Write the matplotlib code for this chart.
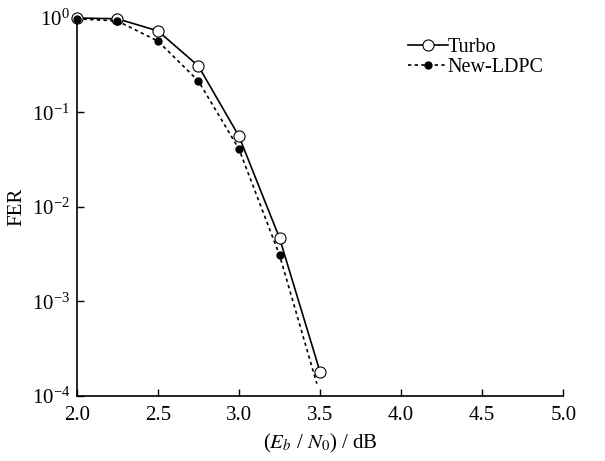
import matplotlib
matplotlib.use("Agg")
import matplotlib.pyplot as plt

# 읽어낸 값 (Eb/N0 [dB], FER)
snr_turbo = [2.0, 2.25, 2.5, 2.75, 3.0, 3.25, 3.5]
fer_turbo = [1.0, 0.98, 0.73, 0.31, 0.056, 0.0047, 1.8e-4]

snr_ldpc = [2.0, 2.25, 2.5, 2.75, 3.0, 3.25, 3.48]
fer_ldpc = [0.98, 0.93, 0.57, 0.215, 0.041, 0.0031, 1.35e-4]

xticks = [2.0, 2.5, 3.0, 3.5, 4.0, 4.5, 5.0]

plt.rcParams["font.family"] = ["Liberation Serif", "DejaVu Serif"]
plt.rcParams["mathtext.fontset"] = "stix"

fig = plt.figure(figsize=(6.05, 4.61), dpi=100)
ax = fig.add_axes([0.127, 0.141, 0.804, 0.820])

ax.semilogy(snr_turbo, fer_turbo, "-", color="black", lw=1.2,
            marker="o", ms=8, mfc="white", mec="black", mew=0.8,
            clip_on=False, label="Turbo")
ax.semilogy(snr_ldpc, fer_ldpc, color="black", lw=1.2, dashes=(2, 2),
            marker="o", ms=5, mfc="black", mec="black",
            markevery=list(range(len(snr_ldpc) - 1)), clip_on=False,
            label="New-LDPC")

ax.set_xlim(2.0, 5.0)
ax.set_ylim(1e-4, 1.0)
ax.set_xticks(xticks)
ax.set_xticklabels([f"{v:.1f}" for v in xticks])
ax.set_yticks([1e-4, 1e-3, 1e-2, 1e-1, 1e0])
ax.minorticks_off()
ax.tick_params(direction="in", length=5, width=1.0, labelsize=15)
ax.tick_params(axis="x", pad=7)
ax.tick_params(axis="y", pad=5)

for s in ("top", "right"):
    ax.spines[s].set_visible(False)
for s in ("left", "bottom"):
    ax.spines[s].set_linewidth(1.2)

ax.set_xlabel(r"($E_b$ / $N_0$) / dB", fontsize=15, labelpad=5)
ax.set_ylabel("FER", fontsize=15, labelpad=4)

leg = ax.legend(loc="upper right", bbox_to_anchor=(0.985, 0.98), frameon=False,
                fontsize=14.5, handlelength=2.0, handletextpad=0.0,
                labelspacing=0.05, borderaxespad=0.2)

fig.savefig("out.png", dpi=100)
